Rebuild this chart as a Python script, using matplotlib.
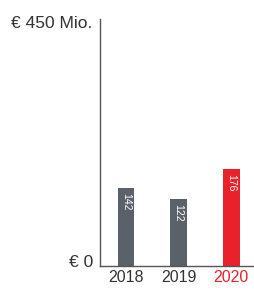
import matplotlib.pyplot as plt

years = ["2018", "2019", "2020"]
values = [142, 122, 176]
colors = ["#5b6168", "#5b6168", "#e8212b"]
label_colors = ["#333333", "#333333", "#e8212b"]

plt.rcParams['font.family'] = ['Liberation Sans', 'DejaVu Sans']

fig = plt.figure(figsize=(2.54, 2.9), dpi=100)
ax = fig.add_axes([100 / 254, 1 - 266 / 290, 154 / 254, 247 / 290])

x = list(range(len(years)))
ax.bar(x, values, width=0.31, color=colors)
ax.set_xlim(-0.493, 2.43)
ax.set_ylim(0, 450)

for i, v in enumerate(values):
    ax.text(i, v - 9, str(v), rotation=270, color="white", fontsize=7.5,
            ha="center", va="top")
    ax.text(i, -8, years[i], color=label_colors[i], fontsize=11.5,
            ha="center", va="top", clip_on=False)

ax.set_xticks([])
ax.set_yticks([])
for s in ["top", "right"]:
    ax.spines[s].set_visible(False)
for s in ["left", "bottom"]:
    ax.spines[s].set_color("#555555")
    ax.spines[s].set_linewidth(1.0)

ax.text(-0.05, 1 - 5 / 247, "€ 450 Mio.", transform=ax.transAxes, ha="right",
        va="center", fontsize=12.5, color="#333333")
ax.text(-0.045, 3.5 / 247, "€ 0", transform=ax.transAxes, ha="right",
        va="center", fontsize=12.5, color="#333333")

fig.savefig("out.png", dpi=100)
